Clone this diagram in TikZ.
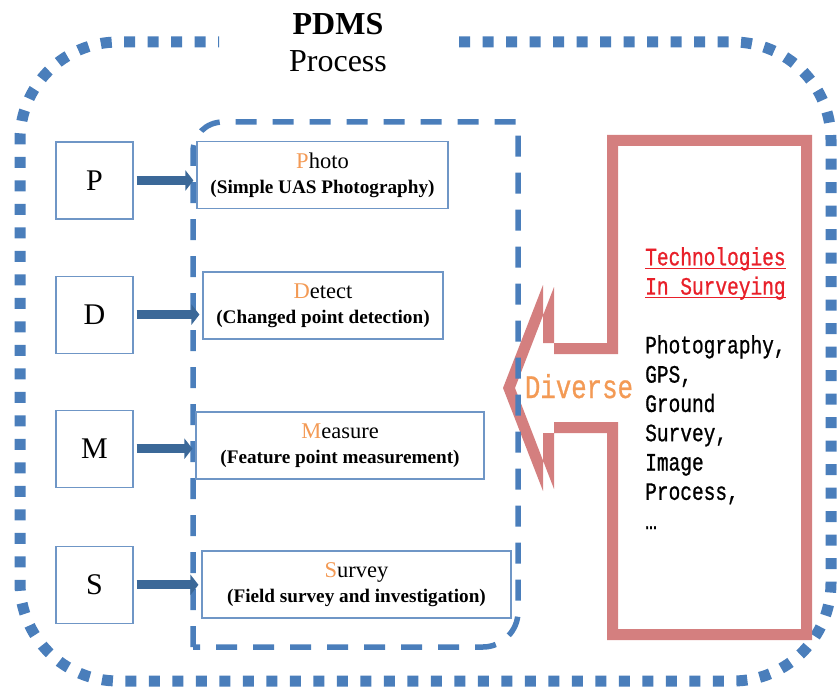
\documentclass[tikz,border=0pt]{standalone}
\usepackage{fontspec}
\setmainfont{Liberation Serif}
\newfontfamily\monofont[FakeStretch=0.78,FakeBold=0.8]{Liberation Mono}
\usepackage{tikz}
\usetikzlibrary{arrows.meta,positioning}
\definecolor{Dots}{HTML}{4A7EBB}
\definecolor{Frame}{HTML}{6F96C6}
\definecolor{Shaft}{HTML}{3B6898}
\definecolor{Hint}{HTML}{F39A55}
\definecolor{Rose}{HTML}{D47F7F}
\definecolor{Alert}{HTML}{E8202A}
\newcommand\firstch[1]{\textcolor{Hint}{#1}}
\newcommand\subline[1]{{\bfseries\fontsize{19.2}{25}\selectfont #1}}
\newcommand\redline[1]{\setbox0\hbox{#1}\rlap{\rule[-3.5pt]{\wd0}{1.3pt}}\box0}
\begin{document}
\begin{tikzpicture}[x=1pt,y=-1pt,>=Latex,node distance=56pt,
  letter/.style={draw=Frame,line width=1.1pt,minimum size=77pt,inner sep=0pt,font=\fontsize{30}{30}\selectfont},
  task/.style={draw=Frame,line width=1.1pt,inner sep=0pt,minimum height=67pt,align=center,font=\fontsize{22.5}{25}\selectfont},
  feed/.style={Shaft,line width=9pt,shorten <=3pt,shorten >=3pt,-{Triangle[length=8pt,width=20pt]}},
  mono/.style={inner sep=0pt,align=left,font=\monofont\fontsize{25}{29.3}\selectfont}]
  \useasboundingbox (0,0) rectangle (837,687);
  \draw[Dots,line width=11pt,dash pattern=on 11pt off 12.5pt,rounded corners=98pt]
    (459,42) -- (831,42) -- (831,681) -- (20,681) -- (20,42) -- (219,42);
  \node[align=center,font=\fontsize{32}{37}\selectfont] (title) at (338,43) {\textbf{PDMS}\\Process};
  % technologies callout
  \fill[Rose,even odd rule]
    (607,135) -- (812,135) -- (812,640) -- (607,640) -- (607,433) -- (543,433) -- (543,491)
    -- (503,388) -- (543,285) -- (543,343) -- (607,343) -- cycle
    (618,146) -- (801,146) -- (801,629) -- (618,629) -- (618,422) -- (554,422) -- (554,489)
    -- (515,388) -- (554,287) -- (554,354) -- (618,354) -- cycle;
  \draw[Dots,line width=5.5pt,dash pattern=on 21pt off 16pt]
    (193,647) -- (193,152) .. controls (193,135) and (206,122) .. (223,122) -- (518,122)
    -- (518,612) .. controls (518,631) and (502,647) .. (483,647) -- cycle;
  \node[letter] (P) at (94.5,180.5) {P};
  \node[letter,below=of P] (D) {D};
  \node[letter,below=of D] (M) {M};
  \node[letter,below=58pt of M] (S) {S};
  \node[task,minimum width=251pt] (photo) at (322.5,175) {\firstch{P}hoto\\\subline{(Simple UAS Photography)}};
  \node[task,minimum width=240pt] (detect) at (323,305.5) {\firstch{D}etect\\\subline{(Changed point detection)}};
  \node[task,minimum width=288pt] (measure) at (340,445.5) {\firstch{M}easure\\\subline{(Feature point measurement)}};
  \node[task,minimum width=309pt] (survey) at (356.5,584.5) {\firstch{S}urvey\\\subline{(Field survey and investigation)}};
  \draw[feed] (P) -- (P -| photo.west);
  \draw[feed] (D) -- (D -| detect.west);
  \draw[feed] (M) -- (M -| measure.west);
  \draw[feed] (S) -- (S -| survey.west);
  \node[mono,Alert,anchor=north west] (tech) at (645,247) {\redline{Technologies}\\\redline{In Surveying}};
  \node[mono,below=35pt of tech.south west,anchor=north west] (kinds)
    {Photography,\\GPS,\\Ground\\Survey,\\Image\\Process,\\…};
  \node[Hint,anchor=base,font=\monofont\fontsize{33}{33}\selectfont] (diverse) at (579,398) {Diverse};
\end{tikzpicture}
\end{document}
